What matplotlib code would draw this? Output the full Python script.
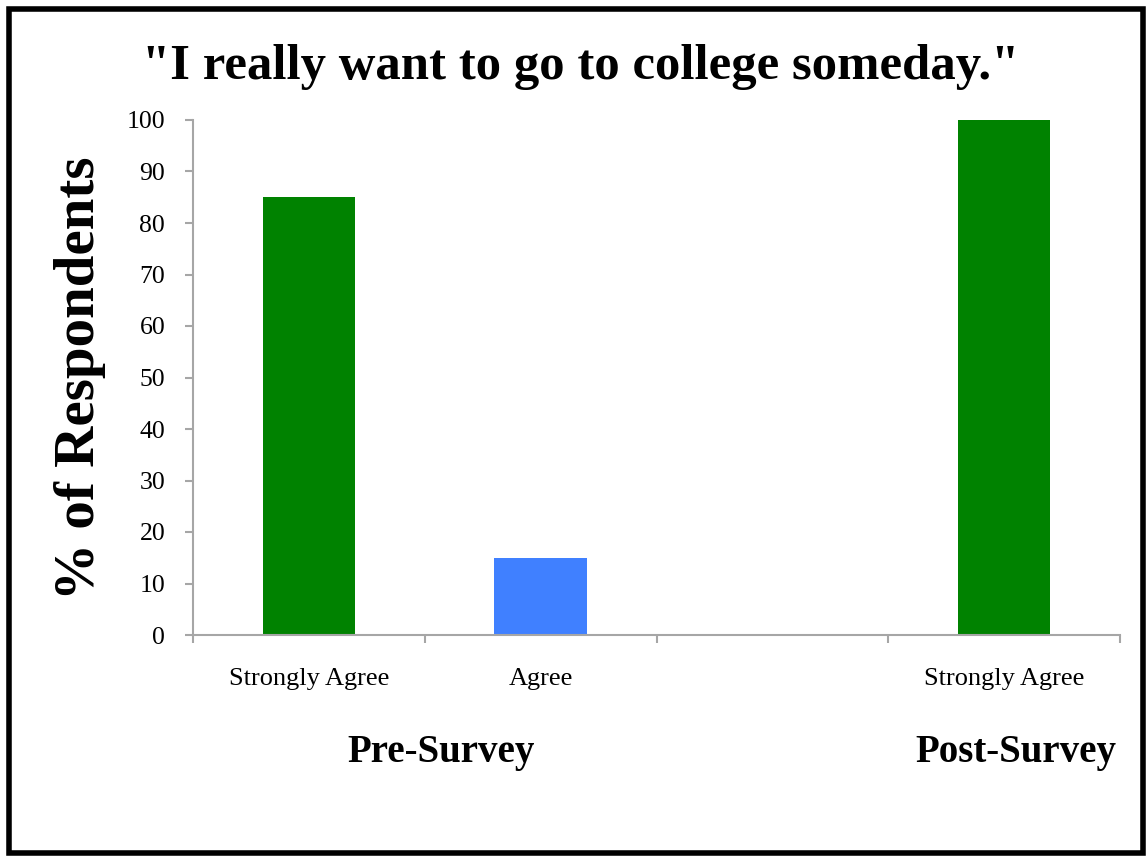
import matplotlib
matplotlib.use('Agg')
import matplotlib.pyplot as plt
import numpy as np
from matplotlib.patches import Rectangle

# Chart data.
categories = ['Strongly Agree', 'Agree', '', 'Strongly Agree']
percent = [85, 15, 0, 100]
bar_colors = ['#008200', '#4080ff', '#ffffff', '#008200']
groups = ['Pre-Survey', 'Post-Survey']
group_pos = [0.57, 3.05]
y_ticks = [0, 10, 20, 30, 40, 50, 60, 70, 80, 90, 100]

SERIF = ['Liberation Serif', 'DejaVu Serif']
AXIS_GREY = '#a6a6a6'


def main():
    W, H = 1148, 857
    fig = plt.figure(figsize=(W / 100, H / 100), dpi=100)
    ax = fig.add_axes([193 / W, 1 - 635 / H, (1120 - 193) / W, (635 - 120) / H])

    x = np.arange(len(categories))
    ax.bar(x, percent, width=0.4, color=bar_colors, linewidth=0)

    ax.set_xlim(-0.5, len(categories) - 0.5)
    ax.set_ylim(0, 100)
    ax.set_yticks(y_ticks)
    ax.set_yticklabels([str(v) for v in y_ticks], fontfamily=SERIF,
                       fontsize=18.5)

    # Category ticks sit on the boundaries, labels in the middle.
    ax.set_xticks(np.arange(len(categories) + 1) - 0.5)
    ax.set_xticklabels([])
    for xi, name in zip(x, categories):
        ax.text(xi, -0.085, name, transform=ax.get_xaxis_transform(),
                ha='center', va='center', fontfamily=SERIF, fontsize=19)
    for gx, name in zip(group_pos, groups):
        ax.text(gx, -0.229, name, transform=ax.get_xaxis_transform(),
                ha='center', va='center', fontfamily=SERIF, fontsize=28,
                fontweight='bold')

    for side in ['top', 'right']:
        ax.spines[side].set_visible(False)
    for side in ['left', 'bottom']:
        ax.spines[side].set_color(AXIS_GREY)
        ax.spines[side].set_linewidth(1.5)
    ax.tick_params(axis='both', direction='out', length=6, width=1.5,
                   color=AXIS_GREY)
    ax.tick_params(axis='y', pad=14)

    fig.text(80 / W, 1 - 378 / H, '% of Respondents', rotation=90,
             ha='center', va='center', fontfamily=SERIF, fontsize=41,
             fontweight='bold')

    fig.text(581 / W, 1 - 67 / H, '"I really want to go to college someday."',
             ha='center', va='center', fontfamily=SERIF, fontsize=36.5,
             fontweight='bold')

    # Black frame around the whole picture.
    fig.patches.append(Rectangle((9 / W, 4 / H), (1134 / W), (1 - 13 / H),
                                 transform=fig.transFigure, fill=False,
                                 edgecolor='black', linewidth=4))

    fig.savefig('out.png', dpi=100)
    plt.close(fig)


if __name__ == '__main__':
    main()
